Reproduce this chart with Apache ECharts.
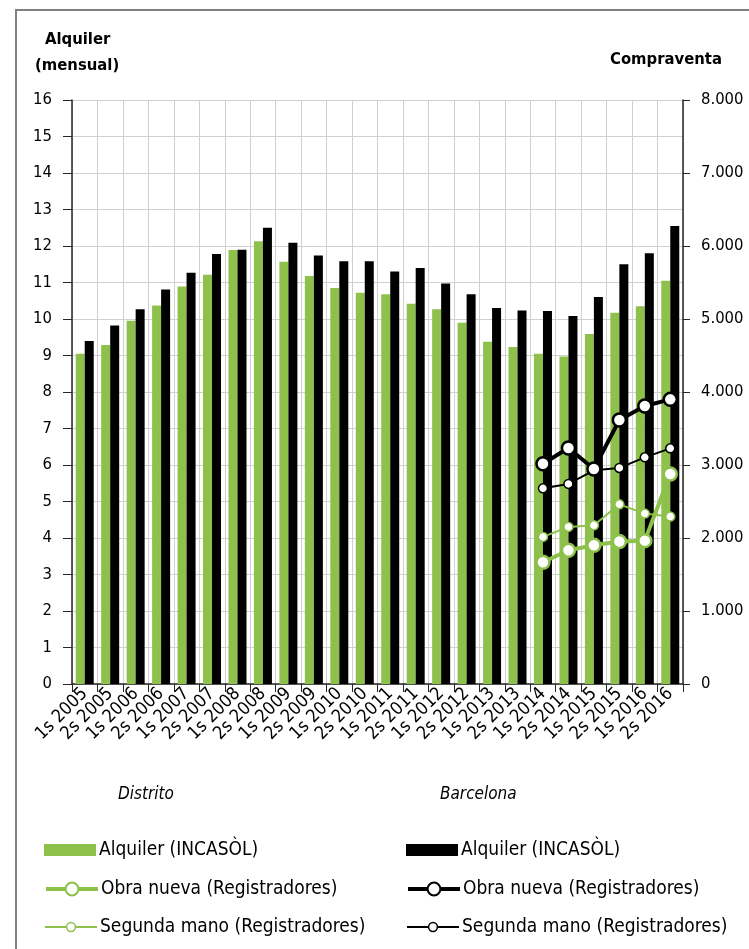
<!DOCTYPE html>
<html>
<head>
  <meta charset="UTF-8">
  <title>Alquiler y compraventa</title>
  <style>
    body { margin: 0; background: #fff; }
    #main { width: 749px; height: 949px; }
  </style>
</head>
<body>
  <div id="main"></div>
  <script src="https://cdn.jsdelivr.net/npm/echarts@6/dist/echarts.min.js"></script>
  <script>
    const periods = [
      '1s 2005', '2s 2005', '1s 2006', '2s 2006', '1s 2007', '2s 2007',
      '1s 2008', '2s 2008', '1s 2009', '2s 2009', '1s 2010', '2s 2010',
      '1s 2011', '2s 2011', '1s 2012', '2s 2012', '1s 2013', '2s 2013',
      '1s 2014', '2s 2014', '1s 2015', '2s 2015', '1s 2016', '2s 2016'
    ];

    // alquiler mensual (eje izquierdo)
    const alqDistrito = [
      9.05, 9.29, 9.95, 10.37, 10.89, 11.21, 11.89, 12.13, 11.57, 11.18, 10.85, 10.72,
      10.68, 10.42, 10.27, 9.90, 9.38, 9.23, 9.05, 8.97, 9.59, 10.17, 10.35, 11.05
    ];
    const alqBarcelona = [
      9.40, 9.82, 10.27, 10.81, 11.27, 11.78, 11.90, 12.50, 12.09, 11.74, 11.58, 11.58,
      11.30, 11.40, 10.97, 10.68, 10.30, 10.23, 10.22, 10.08, 10.60, 11.50, 11.80, 12.55
    ];

    // compraventa (eje derecho), desde 1s 2014
    const pad = new Array(18).fill(null);
    const obraDistrito = pad.concat([1667, 1832, 1900, 1951, 1964, 2877]);
    const segundaDistrito = pad.concat([2015, 2152, 2174, 2461, 2334, 2293]);
    const obraBarcelona = pad.concat([3018, 3233, 2946, 3617, 3808, 3899]);
    const segundaBarcelona = pad.concat([2680, 2741, 2927, 2960, 3105, 3228]);

    const legendText = {
      alqD: 'Alquiler (INCASÒL)', obraD: 'Obra nueva (Registradores)', segD: 'Segunda mano (Registradores)',
      alqB: 'Alquiler (INCASÒL)', obraB: 'Obra nueva (Registradores)', segB: 'Segunda mano (Registradores)'
    };

    const GREEN = '#8DC14B';
    const BLACK = '#000000';
    const FONT = "'DejaVu Sans Condensed', 'Liberation Sans', sans-serif";

    const chart = echarts.init(document.getElementById('main'));

    function dots(v) {
      return v === 0 ? '0' : String(v).replace(/\B(?=(\d{3})+(?!\d))/g, '.');
    }

    function lineSeries(name, data, color, thick) {
      return {
        name: name,
        type: 'line',
        yAxisIndex: 1,
        data: data,
        symbol: 'circle',
        symbolSize: thick ? 13 : 9,
        showAllSymbol: true,
        connectNulls: false,
        z: thick ? 4 : 3,
        lineStyle: { color: color, width: thick ? 4 : 2 },
        itemStyle: { color: '#fff', borderColor: color, borderWidth: thick ? 2.5 : 1.5 }
      };
    }

    // one legend per row so each row can have its own icon size
    function legendRow(name, left, centerY, iconH, item) {
      return {
        orient: 'vertical',
        left: left,
        top: centerY - 11,
        padding: 0,
        itemWidth: 52,
        itemHeight: iconH,
        selectedMode: false,
        textStyle: { fontFamily: FONT, fontSize: 19, lineHeight: 22, color: '#000', padding: [0, 0, 0, -2] },
        formatter: n => legendText[n],
        data: [Object.assign({ name: name }, item)]
      };
    }

    chart.setOption({
      animation: false,
      backgroundColor: '#fff',
      textStyle: { fontFamily: FONT },
      grid: { left: 72, right: 66, top: 100, bottom: 265 },
      graphic: [
        { type: 'rect', shape: { x: 16, y: 10, width: 760, height: 960 },
          style: { fill: 'none', stroke: '#808080', lineWidth: 2 }, silent: true },
        { type: 'text', left: 45, top: 31,
          style: { text: 'Alquiler', font: 'bold 16.5px ' + FONT, fill: '#000' } },
        { type: 'text', left: 35, top: 57,
          style: { text: '(mensual)', font: 'bold 16.5px ' + FONT, fill: '#000' } },
        { type: 'text', left: 610, top: 51,
          style: { text: 'Compraventa', font: 'bold 16.5px ' + FONT, fill: '#000' } },
        { type: 'text', left: 118, top: 786,
          style: { text: 'Distrito', font: 'italic 17px ' + FONT, fill: '#000' } },
        { type: 'text', left: 440, top: 786,
          style: { text: 'Barcelona', font: 'italic 17px ' + FONT, fill: '#000' } }
      ],
      legend: [
        legendRow('alqD', 44, 850, 12, { icon: 'rect', itemStyle: { color: GREEN } }),
        legendRow('obraD', 44, 889, 16, { lineStyle: { width: 4 }, itemStyle: { borderWidth: 2 } }),
        legendRow('segD', 44, 927, 11, { lineStyle: { width: 2 }, itemStyle: { borderWidth: 1.5 } }),
        legendRow('alqB', 406, 850, 12, { icon: 'rect', itemStyle: { color: BLACK } }),
        legendRow('obraB', 406, 889, 16, { lineStyle: { width: 4 }, itemStyle: { borderWidth: 2 } }),
        legendRow('segB', 406, 927, 11, { lineStyle: { width: 2 }, itemStyle: { borderWidth: 1.5 } })
      ],
      xAxis: {
        type: 'category',
        data: periods,
        boundaryGap: true,
        axisLine: { lineStyle: { color: '#262626', width: 1.5 } },
        axisTick: { show: true, length: 8, lineStyle: { color: '#262626' } },
        axisLabel: { rotate: 45, fontSize: 18, color: '#000', margin: 7, interval: 0, fontFamily: FONT },
        splitLine: { show: true, lineStyle: { color: '#d0d0d0', width: 1 } }
      },
      yAxis: [
        {
          type: 'value', min: 0, max: 16, interval: 1,
          axisLine: { show: true, lineStyle: { color: '#262626', width: 1.5 } },
          axisTick: { show: true, length: 9, lineStyle: { color: '#262626' } },
          axisLabel: { fontSize: 16.5, color: '#000', margin: 20, fontFamily: FONT },
          splitLine: { show: true, lineStyle: { color: '#d0d0d0', width: 1 } }
        },
        {
          type: 'value', min: 0, max: 8000, interval: 1000,
          axisLine: { show: true, lineStyle: { color: '#262626', width: 1.5 } },
          axisTick: { show: true, length: 7, lineStyle: { color: '#262626' } },
          axisLabel: { fontSize: 16.5, color: '#000', margin: 18, fontFamily: FONT, formatter: dots },
          splitLine: { show: false }
        }
      ],
      series: [
        { name: 'alqD', type: 'bar', data: alqDistrito, barWidth: 9, barGap: '0%',
          itemStyle: { color: GREEN } },
        { name: 'alqB', type: 'bar', data: alqBarcelona, barWidth: 9, barGap: '0%',
          itemStyle: { color: BLACK } },
        lineSeries('obraD', obraDistrito, GREEN, true),
        lineSeries('segD', segundaDistrito, GREEN, false),
        lineSeries('obraB', obraBarcelona, BLACK, true),
        lineSeries('segB', segundaBarcelona, BLACK, false)
      ]
    });
  </script>
</body>
</html>
